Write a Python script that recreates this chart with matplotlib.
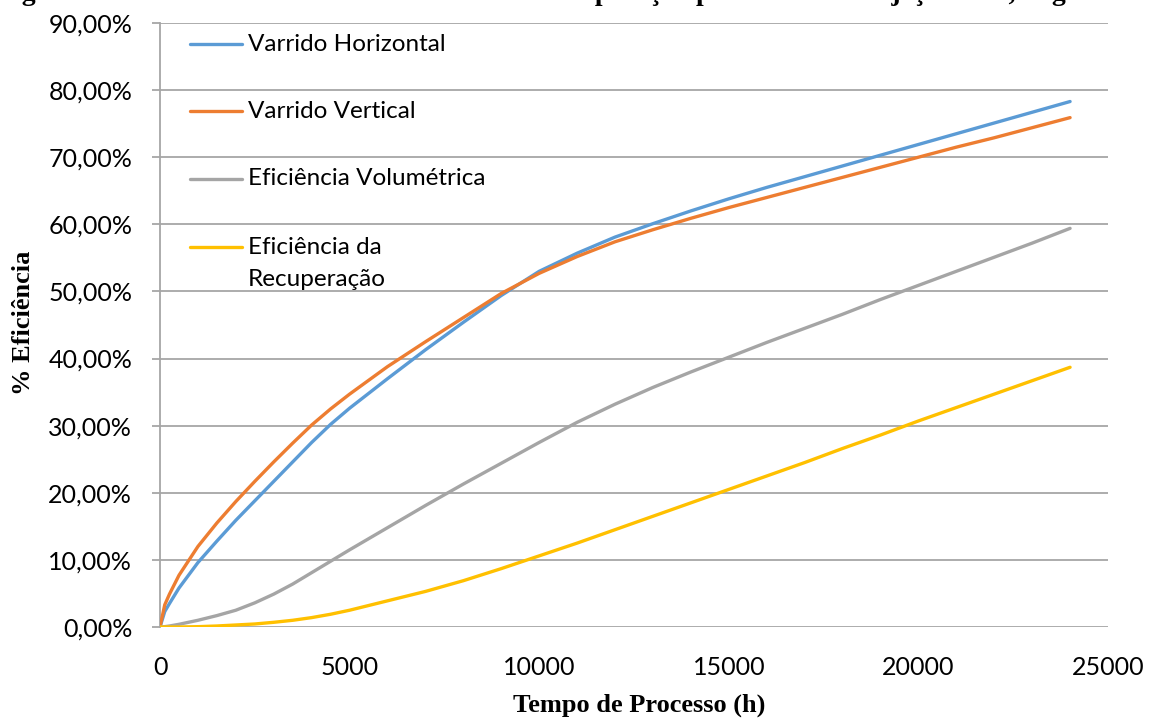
import matplotlib
matplotlib.use("Agg")
import matplotlib.pyplot as plt
from matplotlib.lines import Line2D

# Tempo de processo (h)
horas = [0, 125, 250, 500, 1000, 1500, 2000, 2500, 3000, 3500, 4000, 4500, 5000,
         6000, 7000, 8000, 9000, 10000, 11000, 12000, 13000, 14000, 15000,
         16000, 17000, 18000, 19000, 20000, 21000, 22000, 23000, 24000]

# Eficiências (%)
varrido_horizontal = [0, 2.3, 3.5, 5.8, 9.6, 12.8, 15.9, 18.8, 21.7, 24.6, 27.5, 30.2, 32.6,
                      37.0, 41.3, 45.4, 49.4, 53.0, 55.7, 58.1, 60.1, 62.0, 63.8,
                      65.5, 67.1, 68.7, 70.3, 71.9, 73.5, 75.1, 76.7, 78.3]
varrido_vertical = [0, 3.3, 4.9, 7.7, 12.0, 15.5, 18.7, 21.7, 24.6, 27.4, 30.1, 32.5, 34.7,
                    38.8, 42.5, 46.1, 49.7, 52.7, 55.2, 57.4, 59.2, 60.9, 62.5,
                    64.0, 65.5, 67.0, 68.5, 70.0, 71.5, 72.9, 74.4, 75.9]
ef_volumetrica = [0, 0.05, 0.15, 0.4, 1.0, 1.7, 2.5, 3.6, 4.9, 6.4, 8.1, 9.8, 11.5,
                  14.8, 18.1, 21.3, 24.4, 27.5, 30.5, 33.2, 35.7, 38.0, 40.2,
                  42.4, 44.5, 46.6, 48.8, 50.9, 53.0, 55.1, 57.2, 59.4]
ef_recuperacao = [0, 0, 0, 0, 0.05, 0.15, 0.3, 0.45, 0.7, 1.0, 1.4, 1.9, 2.5,
                  3.9, 5.3, 6.9, 8.7, 10.6, 12.5, 14.5, 16.5, 18.5, 20.5,
                  22.5, 24.5, 26.6, 28.6, 30.7, 32.7, 34.7, 36.7, 38.7]

nomes = ["Varrido Horizontal", "Varrido Vertical", "Eficiência Volumétrica",
         "Eficiência da\nRecuperação"]
cores = ["#5B9BD5", "#ED7D31", "#A5A5A5", "#FFC000"]
series = [varrido_horizontal, varrido_vertical, ef_volumetrica, ef_recuperacao]

y_ticks = [0, 10, 20, 30, 40, 50, 60, 70, 80, 90]
x_ticks = [0, 5000, 10000, 15000, 20000, 25000]

tick_font = "Lato"
serif = "Liberation Serif"
grid_cor = "#A6A6A6"

fig = plt.figure(figsize=(11.5, 7.18), dpi=100)
ax = fig.add_axes([160 / 1150, 91 / 718, 948 / 1150, 604 / 718])

for vals, cor in zip(series, cores):
    ax.plot(horas, vals, color=cor, lw=2.4, solid_capstyle="round",
            solid_joinstyle="round", zorder=3)

ax.set_xlim(0, 25000)
ax.set_ylim(0, 90)
ax.set_yticks(y_ticks)
ax.set_yticklabels([f"{v:.2f}%".replace(".", ",") for v in y_ticks],
                   fontfamily=tick_font, fontsize=18)
ax.set_xticks(x_ticks)
ax.set_xticklabels([str(v) for v in x_ticks], fontfamily=tick_font, fontsize=18)

ax.yaxis.grid(True, color=grid_cor, lw=1.3)
ax.set_axisbelow(True)
for s in ["top", "right", "bottom"]:
    ax.spines[s].set_visible(False)
ax.spines["left"].set_color(grid_cor)
ax.spines["left"].set_linewidth(1.3)
ax.tick_params(axis="y", length=6, width=1.3, color=grid_cor, pad=14)
ax.tick_params(axis="x", length=0, pad=21)

ax.set_xlabel("Tempo de Processo (h)", fontfamily=serif, fontweight="bold", fontsize=19)
ax.xaxis.set_label_coords(0.505, -0.11)
ax.set_ylabel("% Eficiência", fontfamily=serif, fontweight="bold", fontsize=19)
ax.yaxis.set_label_coords(-0.132, 0.503)

# legenda manual (linha alinhada com a primeira linha do texto)
leg_y = [0.965, 0.854, 0.742, 0.629]
for nome, cor, yy in zip(nomes, cores, leg_y):
    ax.add_line(Line2D([0.032, 0.087], [yy, yy], transform=ax.transAxes,
                       color=cor, lw=2.4, solid_capstyle="round", clip_on=False))
    if "\n" in nome:
        ax.text(0.093, yy + 0.017, nome, transform=ax.transAxes, fontfamily=tick_font,
                fontsize=17.5, va="top", linespacing=1.65)
    else:
        ax.text(0.093, yy, nome, transform=ax.transAxes, fontfamily=tick_font,
                fontsize=17.5, va="center")

# titulo cortado no topo da imagem
fig.text(0.47, 1.0, "Figura 4.14 – Perfis de varrido e eficiência da recuperação "
         "para vazão de injeção de 0,4 kg/s", ha="center", va="baseline",
         fontfamily=serif, fontweight="bold", fontsize=20)

fig.savefig("out.png", dpi=100)
